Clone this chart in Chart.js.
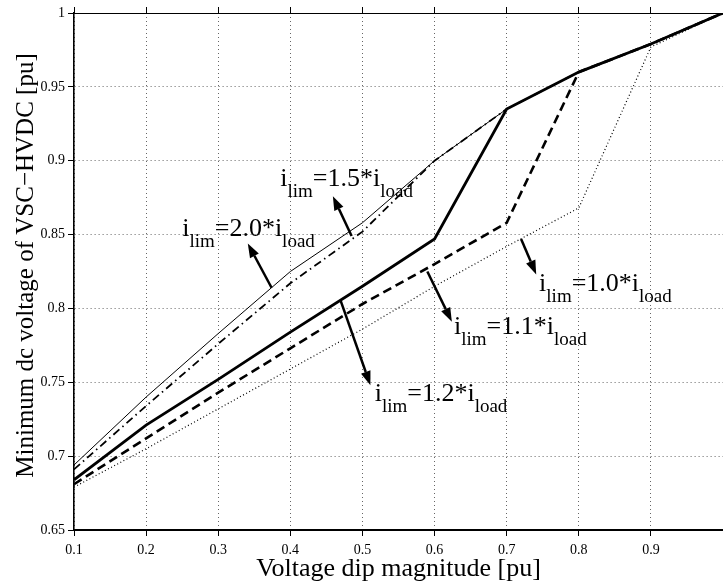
<!DOCTYPE html>
<html>
<head>
<meta charset="utf-8">
<style>
html,body{margin:0;padding:0;overflow:hidden;background:#fff;width:723px;height:584px}
canvas{display:block}
</style>
<script src="https://cdn.jsdelivr.net/npm/chart.js@4/dist/chart.umd.min.js"></script>
</head>
<body>
<canvas id="c" width="729" height="584" style="width:729px;height:584px"></canvas>
<script>
// ---- data ----
const dipMagnitude = [0.1, 0.2, 0.3, 0.4, 0.5, 0.6, 0.7, 0.8, 0.9, 1.0];
const vdcLim20 = [0.694, 0.740, 0.783, 0.825, 0.858, 0.900, 0.935, 0.960, 0.979, 1.000];
const vdcLim15 = [0.691, 0.734, 0.776, 0.817, 0.852, 0.900, 0.935, 0.960, 0.979, 1.000];
const vdcLim12 = [0.684, 0.721, 0.752, 0.784, 0.815, 0.847, 0.935, 0.960, 0.979, 1.000];
const vdcLim11 = [0.681, 0.712, 0.743, 0.773, 0.803, 0.830, 0.858, 0.960, 0.979, 1.000];
const vdcLim10 = [0.679, 0.705, 0.732, 0.759, 0.786, 0.815, 0.842, 0.868, 0.977, 1.000];
const limitRatios = ['1.2', '1.1', '1.0', '1.5', '2.0'];
const xTickLabels = ['0.1', '0.2', '0.3', '0.4', '0.5', '0.6', '0.7', '0.8', '0.9', ''];
const yTickLabels = ['0.65', '0.7', '0.75', '0.8', '0.85', '0.9', '0.95', '1'];
const xTitle = 'Voltage dip magnitude [pu]';
const yTitle = 'Minimum dc voltage of VSC\u2212HVDC [pu]';

// annotation placement (data units)
const annotations = [
  { ratio: limitRatios[4], text: [0.250, 0.849], from: [0.374, 0.814], to: [0.341, 0.844] },
  { ratio: limitRatios[3], text: [0.386, 0.883], from: [0.485, 0.849], to: [0.459, 0.876] },
  { ratio: limitRatios[2], text: [0.745, 0.812], from: [0.720, 0.847], to: [0.741, 0.823] },
  { ratio: limitRatios[1], text: [0.627, 0.783], from: [0.590, 0.825], to: [0.624, 0.791] },
  { ratio: limitRatios[0], text: [0.517, 0.737], from: [0.470, 0.805], to: [0.511, 0.748] }
];

const pts = arr => dipMagnitude.map((x, i) => ({ x, y: arr[i] }));
const SERIF = '"Liberation Serif", "DejaVu Serif", serif';

const labelPlugin = {
  id: 'arrowLabels',
  afterDatasetsDraw(chart) {
    const { ctx, scales, chartArea } = chart;
    const sx = scales.x, sy = scales.y;
    ctx.save();
    ctx.fillStyle = '#000';
    ctx.strokeStyle = '#000';
    for (const a of annotations) {
      const x0 = sx.getPixelForValue(a.from[0]), y0 = sy.getPixelForValue(a.from[1]);
      const x1 = sx.getPixelForValue(a.to[0]), y1 = sy.getPixelForValue(a.to[1]);
      const ang = Math.atan2(y1 - y0, x1 - x0);
      const hl = 14, hw = 5;
      const bx = x1 - hl * Math.cos(ang), by = y1 - hl * Math.sin(ang);
      ctx.lineWidth = 2.5;
      ctx.beginPath(); ctx.moveTo(x0, y0); ctx.lineTo(bx, by); ctx.stroke();
      ctx.beginPath();
      ctx.moveTo(x1, y1);
      ctx.lineTo(bx + hw * Math.sin(ang), by - hw * Math.cos(ang));
      ctx.lineTo(bx - hw * Math.sin(ang), by + hw * Math.cos(ang));
      ctx.closePath(); ctx.fill();

      let tx = sx.getPixelForValue(a.text[0]);
      const ty = sy.getPixelForValue(a.text[1]);
      const parts = [['i', 0], ['lim', 1], ['=' + a.ratio + '*i', 0], ['load', 1]];
      ctx.textBaseline = 'alphabetic';
      ctx.textAlign = 'left';
      for (const [s, sub] of parts) {
        ctx.font = (sub ? '19px ' : '26px ') + SERIF;
        ctx.fillText(s, tx, ty + (sub ? 11 : 0));
        tx += ctx.measureText(s).width;
      }
    }
    // y axis title
    ctx.translate(sy.left + 24, (chartArea.top + chartArea.bottom) / 2 - 6);
    ctx.rotate(-Math.PI / 2);
    ctx.font = '25px ' + SERIF;
    ctx.textAlign = 'center';
    ctx.textBaseline = 'alphabetic';
    ctx.fillText(yTitle, 0, 8.5);
    ctx.restore();
  }
};

new Chart(document.getElementById('c'), {
  type: 'line',
  data: {
    datasets: [
      { label: 'ilim=1.2*iload', data: pts(vdcLim12), borderColor: '#000', borderWidth: 2.8 },
      { label: 'ilim=1.1*iload', data: pts(vdcLim11), borderColor: '#000', borderWidth: 2.6, borderDash: [9, 5] },
      { label: 'ilim=1.5*iload', data: pts(vdcLim15), borderColor: '#000', borderWidth: 1.8, borderDash: [8, 4, 1.5, 4] },
      { label: 'ilim=2.0*iload', data: pts(vdcLim20), borderColor: '#000', borderWidth: 1 },
      { label: 'ilim=1.0*iload', data: pts(vdcLim10), borderColor: '#000', borderWidth: 1.2, borderDash: [1, 2.5] }
    ]
  },
  options: {
    responsive: false,
    animation: false,
    layout: { padding: 0 },
    elements: { point: { radius: 0 }, line: { tension: 0, fill: false } },
    plugins: { legend: { display: false }, tooltip: { enabled: false } },
    scales: {
      x: {
        type: 'linear', position: 'bottom', min: 0.1, max: 1.0,
        afterFit(s) { s.height = 54; },
        ticks: {
          stepSize: 0.1, color: '#000', padding: 6, maxRotation: 0, autoSkip: false,
          font: { family: SERIF, size: 14 },
          callback: v => { const s = xTickLabels[Math.round(v * 10) - 1]; return s === undefined ? '' : s; }
        },
        grid: { color: '#666', lineWidth: 1, tickLength: 6, tickColor: '#000', tickWidth: 1 },
        border: { color: '#000', width: 2, dash: [1, 3] },
        title: {
          display: true, text: xTitle, color: '#000',
          font: { family: SERIF, size: 26, lineHeight: 1 }, padding: { top: 0, bottom: 1.5 }
        }
      },
      x2: {
        type: 'linear', position: 'top', min: 0.1, max: 1.0,
        afterFit(s) { s.height = 13; },
        ticks: { stepSize: 0.1, display: false },
        grid: { drawOnChartArea: false, tickLength: 6, tickColor: '#000', tickWidth: 1 },
        border: { color: '#000', width: 1 }
      },
      y: {
        type: 'linear', position: 'left', min: 0.65, max: 1.0,
        afterFit(s) { s.width = 74; },
        ticks: {
          stepSize: 0.05, color: '#000', padding: 3,
          font: { family: SERIF, size: 14 },
          callback: v => { const s = yTickLabels[Math.round((v - 0.65) / 0.05)]; return s === undefined ? '' : s; }
        },
        grid: { color: '#666', lineWidth: 1, tickLength: 6, tickColor: '#000', tickWidth: 1 },
        border: { color: '#000', width: 1.6, dash: [1, 3] },
        title: { display: false }
      }
    }
  },
  plugins: [labelPlugin]
});
</script>
</body>
</html>
